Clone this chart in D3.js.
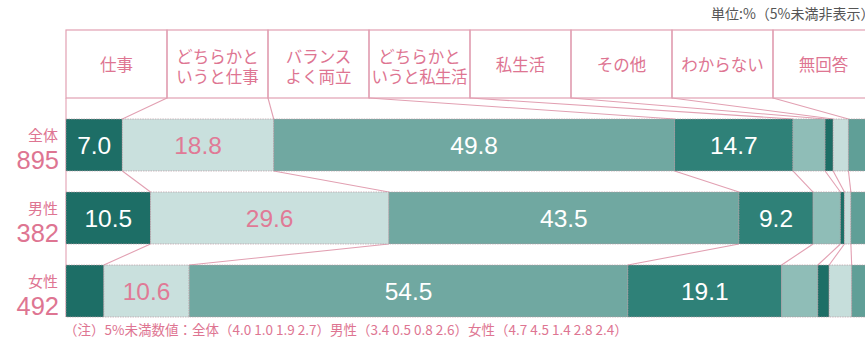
<!DOCTYPE html>
<html>
<head>
<meta charset="utf-8">
<script src="https://cdn.jsdelivr.net/npm/d3@7"></script>
<style>
  body { margin: 0; background: #fff; }
  svg { display: block; }
  text { font-family: "Noto Sans CJK JP", "Noto Sans", sans-serif; }
  .num { font-family: "Liberation Sans", Arial, sans-serif; }
</style>
</head>
<body>
<div id="chart"></div>
<script>
var width = 865, height = 342;

// categories (header columns)
const categories = ["仕事", "どちらかというと仕事", "バランスよく両立", "どちらかというと私生活", "私生活", "その他", "わからない", "無回答"];
const headerLines = [["仕事"], ["どちらかと", "いうと仕事"], ["バランス", "よく両立"], ["どちらかと", "いうと私生活"], ["私生活"], ["その他"], ["わからない"], ["無回答"]];

// rows
const groups = ["全体", "男性", "女性"];
const counts = [895, 382, 492];

// series values (%)
const valuesAll = [7.0, 18.8, 49.8, 14.7, 4.0, 1.0, 1.9, 2.7];
const valuesMen = [10.5, 29.6, 43.5, 9.2, 3.4, 0.5, 0.8, 2.6];
const valuesWomen = [4.7, 10.6, 54.5, 19.1, 4.5, 1.4, 2.8, 2.4];

const rowValues = [valuesAll, valuesMen, valuesWomen];

const unitNote = "単位:%（5%未満非表示）";
const footNote = "（注）5%未満数値：全体（4.0 1.0 1.9 2.7）男性（3.4 0.5 0.8 2.6）女性（4.7 4.5 1.4 2.8 2.4）";

var colors = ["#1d6e66", "#c9e0dd", "#70a8a1", "#2f8178", "#8fbdb7", "#1d6e66", "#c6dedb", "#609f97"];
var labelColors = ["#fff", "#e07a96", "#fff", "#fff", "#fff", "#fff", "#e07a96", "#fff"];
var pink = "#de7592";
var linePink = "#e2a0b2";

var svg = d3.select("#chart").append("svg")
  .attr("width", width)
  .attr("height", height);

var x = d3.scaleLinear().domain([0, 100]).range([66, 871]);
var xHead = d3.scaleBand().domain(categories).range([66, 874]);
var y = d3.scaleBand().domain(groups).range([119, 317]).paddingInner(0.288).paddingOuter(0);

var headTop = 30, headBottom = 98;

// stacked rows
var rows = groups.map(function(g, i) {
  var acc = 0;
  var segs = rowValues[i].map(function(v, j) {
    var s = { cat: categories[j], idx: j, v: v, x0: acc, x1: acc + v };
    acc += v;
    return s;
  });
  return { group: g, count: counts[i], segs: segs };
});

// header boxes
var head = svg.append("g").attr("class", "header");
head.selectAll("rect")
  .data(categories)
  .enter().append("rect")
  .attr("x", d => xHead(d))
  .attr("y", headTop)
  .attr("width", xHead.bandwidth())
  .attr("height", headBottom - headTop)
  .attr("fill", "none")
  .attr("stroke", linePink)
  .attr("stroke-width", 1.2);

head.selectAll("text")
  .data(categories)
  .enter().append("text")
  .attr("x", d => xHead(d) + xHead.bandwidth() / 2)
  .attr("y", (d, i) => headerLines[i].length == 1 ? 71 : 63)
  .attr("text-anchor", "middle")
  .attr("font-size", 16.5)
  .attr("fill", pink)
  .each(function(d, i) {
    var t = d3.select(this);
    headerLines[i].forEach(function(line, k) {
      t.append("tspan")
        .attr("x", xHead(d) + xHead.bandwidth() / 2)
        .attr("dy", k == 0 ? 0 : 20)
        .attr("textLength", line.length > 5 ? 96 : null)
        .text(line);
    });
  });

// connectors: header bottom -> first bar top
var conn = svg.append("g").attr("class", "connectors")
  .attr("stroke", linePink).attr("stroke-width", 1.1).attr("fill", "none");

conn.append("line")
  .attr("x1", x(0)).attr("x2", x(0))
  .attr("y1", headBottom).attr("y2", y(groups[2]) + y.bandwidth());

categories.forEach(function(c, j) {
  if (j == 0) return;
  conn.append("line")
    .attr("x1", xHead(c)).attr("y1", headBottom)
    .attr("x2", x(rows[0].segs[j].x0)).attr("y2", y(groups[0]));
});

// connectors between bars
for (var r = 0; r < rows.length - 1; r++) {
  rows[r].segs.forEach(function(s, j) {
    if (j == 0) return;
    conn.append("line")
      .attr("x1", x(s.x0)).attr("y1", y(rows[r].group) + y.bandwidth())
      .attr("x2", x(rows[r + 1].segs[j].x0)).attr("y2", y(rows[r + 1].group));
  });
}

// bars
var rowG = svg.selectAll("g.row")
  .data(rows)
  .enter().append("g")
  .attr("class", "row")
  .attr("transform", d => "translate(0," + y(d.group) + ")");

rowG.selectAll("rect")
  .data(d => d.segs)
  .enter().append("rect")
  .attr("x", d => x(d.x0))
  .attr("width", d => x(d.x1) - x(d.x0))
  .attr("height", y.bandwidth())
  .attr("fill", d => colors[d.idx])
  .attr("stroke", "#b99aa2")
  .attr("stroke-width", 0.7)
  .attr("stroke-dasharray", "1.5,1");

rowG.selectAll("text.val")
  .data(d => d.segs.filter(s => s.v >= 5))
  .enter().append("text")
  .attr("class", "val num")
  .attr("x", d => x((d.x0 + d.x1) / 2))
  .attr("y", y.bandwidth() / 2 + 9)
  .attr("text-anchor", "middle")
  .attr("font-size", 24.5)
  .attr("fill", d => labelColors[d.idx])
  .text(d => d3.format(".1f")(d.v));

// row labels
rowG.append("text")
  .attr("x", 58)
  .attr("y", 22)
  .attr("text-anchor", "end")
  .attr("font-size", 15)
  .attr("fill", pink)
  .text(d => d.group);

rowG.append("text")
  .attr("class", "num")
  .attr("x", 59)
  .attr("y", 50)
  .attr("text-anchor", "end")
  .attr("font-size", 25.5)
  .attr("fill", pink)
  .text(d => d.count);

// unit note
svg.append("text")
  .attr("x", 711)
  .attr("y", 19)
  .attr("font-size", 14)
  .attr("fill", "#555")
  .text(unitNote);

// footnote
svg.append("text")
  .attr("x", 64)
  .attr("y", 335)
  .attr("font-size", 13.5)
  .attr("fill", pink)
  .text(footNote);
</script>
</body>
</html>
